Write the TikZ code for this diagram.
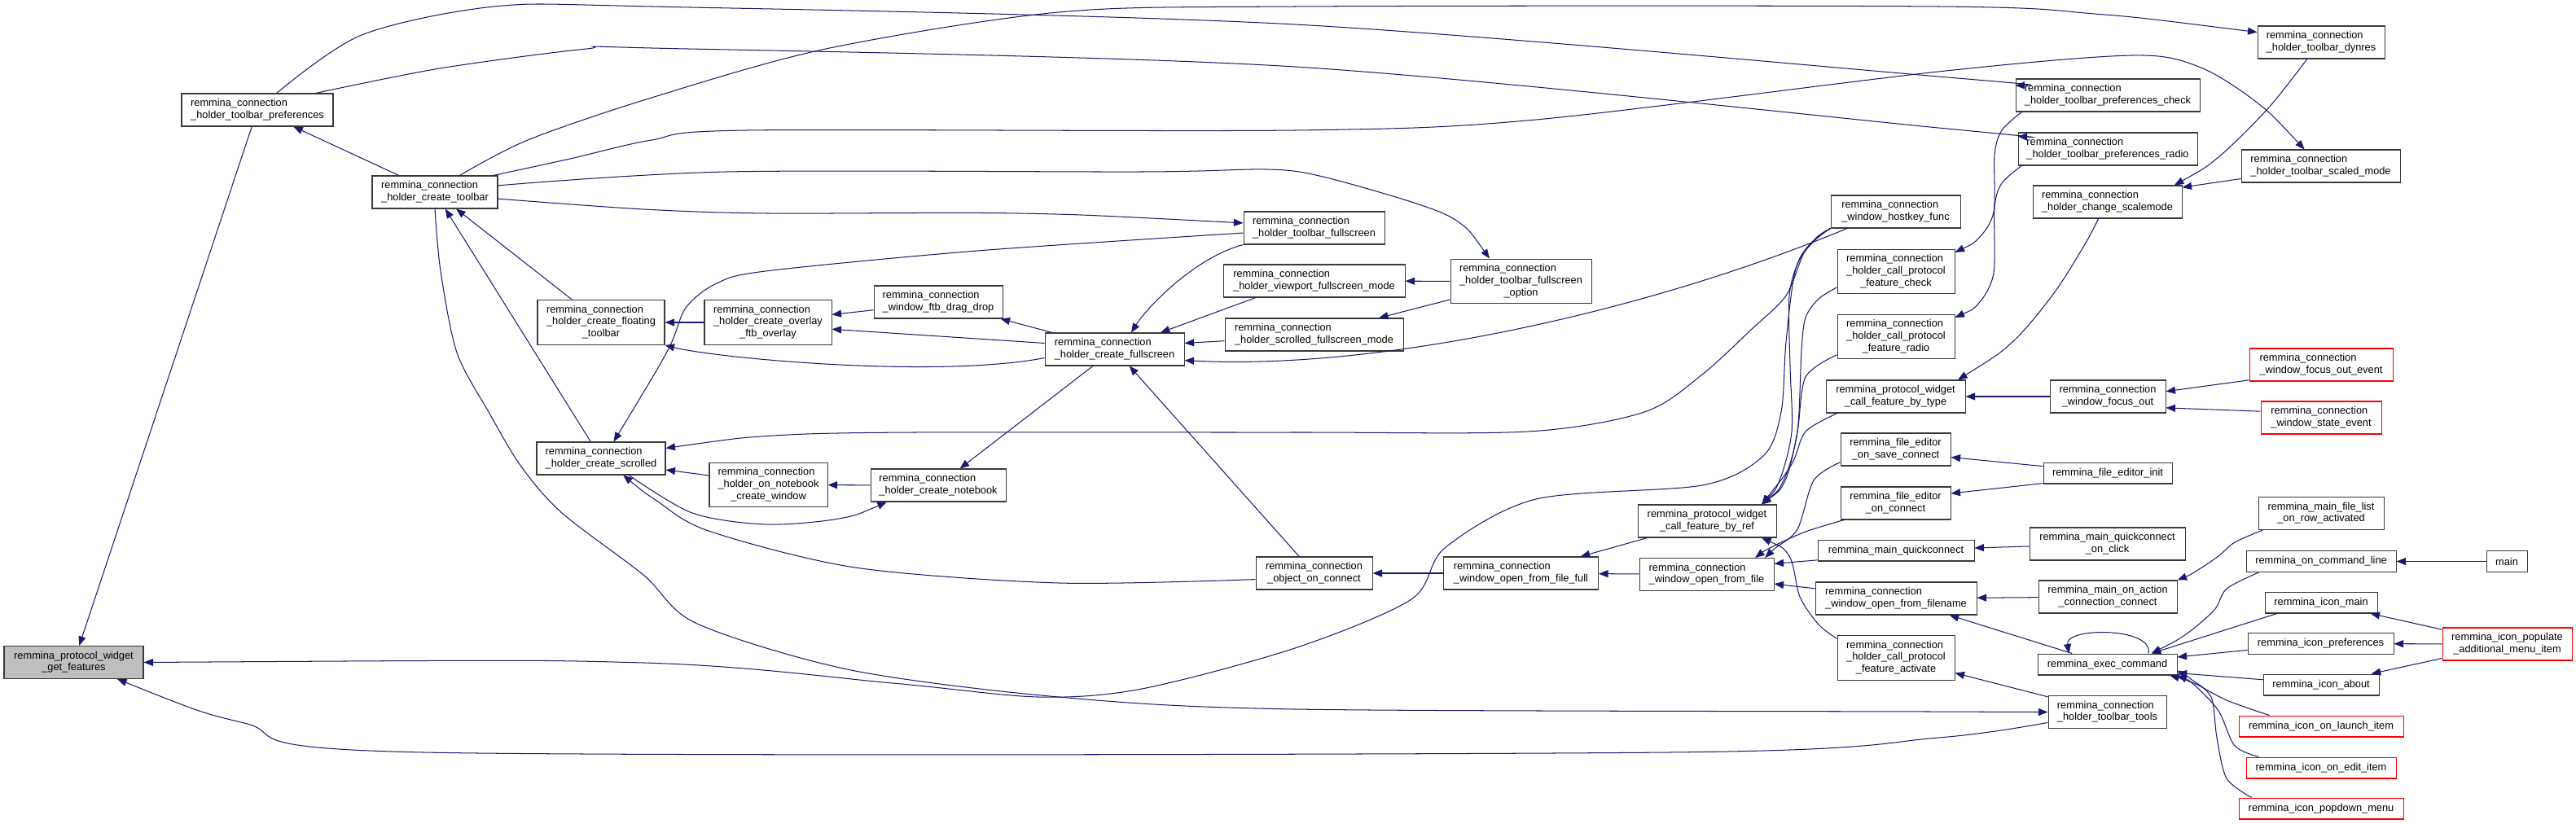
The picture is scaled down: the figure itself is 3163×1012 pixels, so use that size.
\documentclass[tikz,border=0pt]{standalone}
\usepackage{fontspec}
\setmainfont{Liberation Sans}
\usepackage{tikz}
\usetikzlibrary{arrows.meta}
\definecolor{CallBlue}{HTML}{191970}
\definecolor{BoxLine}{HTML}{3A3A3A}
\definecolor{BoxRed}{HTML}{FF0000}
\definecolor{BoxRoot}{HTML}{BFBFBF}
\tikzset{
  fnbox/.style={draw=BoxLine, line width=0.8pt, fill=white, inner sep=0pt, minimum height=31.25pt, font=\fontsize{10}{11.5}\selectfont},
  fnroot/.style={fnbox, fill=BoxRoot},
  fnred/.style={fnbox, draw=BoxRed},
  wd/.style={minimum width=#1*0.78125pt},
  oneline/.style={minimum height=20.3pt},
  threeline/.style={minimum height=42.9pt},
  callarrow/.style={draw=CallBlue, line width=0.8pt, {Triangle[length=9pt,width=7pt]}-}
}
\newcommand{\fnlabel}[2]{\begin{tabular}{@{}l@{}}#1\\\multicolumn{1}{@{}c@{}}{#2}\end{tabular}}

\begin{document}
\begin{tikzpicture}[x=0.78125pt, y=-0.78125pt]
\useasboundingbox (0,0) rectangle (3163,1012);
% functions, one column per call depth
\node[fnroot, wd=171] (getfeat) at (90.5,813.5) {\fnlabel{remmina\_protocol\_widget}{\_get\_features}};
\node[fnbox, wd=186] (tbprefs) at (316,135) {\fnlabel{remmina\_connection}{\_holder\_toolbar\_preferences}};
\node[fnbox, wd=154] (mktoolbar) at (534,236) {\fnlabel{remmina\_connection}{\_holder\_create\_toolbar}};
\node[fnbox, threeline, wd=156] (mkfloat) at (738,396) {\fnlabel{remmina\_connection\\\_holder\_create\_floating}{\_toolbar}};
\node[fnbox, wd=158] (mkscrolled) at (738,563) {\fnlabel{remmina\_connection}{\_holder\_create\_scrolled}};
\node[fnbox, threeline, wd=156] (mkoverlay) at (943,396) {\fnlabel{remmina\_connection\\\_holder\_create\_overlay}{\_ftb\_overlay}};
\node[fnbox, threeline, wd=145] (nbwindow) at (943.5,595.5) {\fnlabel{remmina\_connection\\\_holder\_on\_notebook}{\_create\_window}};
\node[fnbox, wd=158] (dragdrop) at (1152,371) {\fnlabel{remmina\_connection}{\_window\_ftb\_drag\_drop}};
\node[fnbox, wd=166] (mknotebook) at (1152,596) {\fnlabel{remmina\_connection}{\_holder\_create\_notebook}};
\node[fnbox, wd=171] (mkfull) at (1368.5,429) {\fnlabel{remmina\_connection}{\_holder\_create\_fullscreen}};
\node[fnbox, wd=143] (objconn) at (1613.5,704) {\fnlabel{remmina\_connection}{\_object\_on\_connect}};
\node[fnbox, wd=173] (tbfull) at (1613.5,280) {\fnlabel{remmina\_connection}{\_holder\_toolbar\_fullscreen}};
\node[fnbox, wd=223] (vpfull) at (1613.5,345) {\fnlabel{remmina\_connection}{\_holder\_viewport\_fullscreen\_mode}};
\node[fnbox, wd=219] (scfull) at (1613.5,411) {\fnlabel{remmina\_connection}{\_holder\_scrolled\_fullscreen\_mode}};
\node[fnbox, threeline, wd=173] (tbfullopt) at (1867.5,345.5) {\fnlabel{remmina\_connection\\\_holder\_toolbar\_fullscreen}{\_option}};
\node[fnbox, wd=190] (openfull) at (1867.5,704) {\fnlabel{remmina\_connection}{\_window\_open\_from\_file\_full}};
\node[fnbox, wd=170] (byref) at (2096,640) {\fnlabel{remmina\_protocol\_widget}{\_call\_feature\_by\_ref}};
\node[fnbox, wd=165] (openfile) at (2095.5,705.5) {\fnlabel{remmina\_connection}{\_window\_open\_from\_file}};
\node[fnbox, wd=159] (hostkey) at (2327.5,260) {\fnlabel{remmina\_connection}{\_window\_hostkey\_func}};
\node[fnbox, threeline, wd=144] (featcheck) at (2328,333.5) {\fnlabel{remmina\_connection\\\_holder\_call\_protocol}{\_feature\_check}};
\node[fnbox, threeline, wd=144] (featradio) at (2328,413.5) {\fnlabel{remmina\_connection\\\_holder\_call\_protocol}{\_feature\_radio}};
\node[fnbox, wd=171] (bytype) at (2327.5,487) {\fnlabel{remmina\_protocol\_widget}{\_call\_feature\_by\_type}};
\node[fnbox, wd=135] (edsave) at (2327.5,552) {\fnlabel{remmina\_file\_editor}{\_on\_save\_connect}};
\node[fnbox, wd=135] (edconn) at (2327.5,618) {\fnlabel{remmina\_file\_editor}{\_on\_connect}};
\node[fnbox, oneline, wd=192] (quickconn) at (2328,676) {remmina\_main\_quickconnect};
\node[fnbox, wd=198] (openname) at (2328,735) {\fnlabel{remmina\_connection}{\_window\_open\_from\_filename}};
\node[fnbox, threeline, wd=144] (featact) at (2328,808) {\fnlabel{remmina\_connection\\\_holder\_call\_protocol}{\_feature\_activate}};
\node[fnbox, wd=156] (dynres) at (2850,52) {\fnlabel{remmina\_connection}{\_holder\_toolbar\_dynres}};
\node[fnbox, wd=226] (prefcheck) at (2588,117) {\fnlabel{remmina\_connection}{\_holder\_toolbar\_preferences\_check}};
\node[fnbox, wd=220] (prefradio) at (2588,183) {\fnlabel{remmina\_connection}{\_holder\_toolbar\_preferences\_radio}};
\node[fnbox, wd=195] (scaled) at (2849.5,204) {\fnlabel{remmina\_connection}{\_holder\_toolbar\_scaled\_mode}};
\node[fnbox, wd=183] (scalemode) at (2587.5,248) {\fnlabel{remmina\_connection}{\_holder\_change\_scalemode}};
\node[fnbox, wd=142] (focusout) at (2588,487) {\fnlabel{remmina\_connection}{\_window\_focus\_out}};
\node[fnred, wd=176] (focusevt) at (2850,448) {\fnlabel{remmina\_connection}{\_window\_focus\_out\_event}};
\node[fnred, wd=148] (stateevt) at (2850,513) {\fnlabel{remmina\_connection}{\_window\_state\_event}};
\node[fnbox, oneline, wd=158] (edinit) at (2588,581) {remmina\_file\_editor\_init};
\node[fnbox, wd=154] (rowact) at (2850,630.5) {\fnlabel{remmina\_main\_file\_list}{\_on\_row\_activated}};
\node[fnbox, wd=191] (quickclick) at (2587.5,668) {\fnlabel{remmina\_main\_quickconnect}{\_on\_click}};
\node[fnbox, oneline, wd=184] (cmdline) at (2850,689.5) {remmina\_on\_command\_line};
\node[fnbox, oneline, wd=50] (mainfn) at (3078,689.5) {main};
\node[fnbox, wd=170] (actconn) at (2588,733) {\fnlabel{remmina\_main\_on\_action}{\_connection\_connect}};
\node[fnbox, oneline, wd=138] (iconmain) at (2850,740) {remmina\_icon\_main};
\node[fnred, wd=159] (populate) at (3078.5,791) {\fnlabel{remmina\_icon\_populate}{\_additional\_menu\_item}};
\node[fnbox, oneline, wd=179] (iconprefs) at (2849.5,790.5) {remmina\_icon\_preferences};
\node[fnbox, oneline, wd=171] (execcmd) at (2587.5,816) {remmina\_exec\_command};
\node[fnbox, oneline, wd=142] (iconabout) at (2850,841) {remmina\_icon\_about};
\node[fnbox, wd=145] (tbtools) at (2587.5,874.5) {\fnlabel{remmina\_connection}{\_holder\_toolbar\_tools}};
\node[fnred, oneline, wd=202] (launch) at (2850,892) {remmina\_icon\_on\_launch\_item};
\node[fnred, oneline, wd=184] (edititem) at (2850,943) {remmina\_icon\_on\_edit\_item};
\node[fnred, oneline, wd=202] (popdown) at (2850,993) {remmina\_icon\_popdown\_menu};
% calls, arrow tip at the callee
\draw[callarrow] (getfeat) -- (tbprefs);
\draw[callarrow] plot[smooth] coordinates {(getfeat.east) (790,814) (1096,839) (1275,856) (1402,846) (1590,796) (1733,736) (1774,673) (1886,613) (2090,596) (2165,560) (2187,506) (2193,420) (2205,330) (2230,293) (hostkey.south west)};
\draw[callarrow] plot[smooth] coordinates {(getfeat.-21) (300,888) (520,924) (2050,924) (2380,906) (tbtools.190)};
\draw[callarrow] (tbprefs) -- (mktoolbar);
\draw[callarrow] (mktoolbar) -- (mkfloat);
\draw[callarrow] (mktoolbar) -- (mkscrolled);
\draw[callarrow] plot[smooth] coordinates {(dynres.171) (2572,17) (2380,8) (1590,8) (1300,15) (1014,60) (800,120) (648,172) (mktoolbar.34)};
\draw[callarrow] plot[smooth] coordinates {(prefcheck.174) (2380,94) (1590,30) (800,8) (607,8) (444,43) (tbprefs.41)};
\draw[callarrow] plot[smooth] coordinates {(prefradio.172) (2380,157) (1590,82) (800,59) (720,60) (540,84) (tbprefs.16)};
\draw[callarrow] plot[smooth] coordinates {(scaled.134) (2770,125) (2700,82) (2618,68) (2380,88) (1886,147) (1590,160) (918,160) (800,172) (700,195) (mktoolbar.16)};
\draw[callarrow] plot[smooth] coordinates {(tbfullopt.144) (1790,272) (1733,248) (1620,216) (1555,208) (1402,211) (892,211) (mktoolbar.6)};
\draw[callarrow] plot[smooth] coordinates {(tbfull.176) (1250,262) (943,262) (790,257) (mktoolbar.-6)};
\draw[callarrow] plot[smooth] coordinates {(tbtools.west) (2370,874) (1590,871) (1300,856) (1045,823) (856,766) (790,706) (690,630) (640,573) (600,506) (561,433) (541,333) (mktoolbar.south)};
\draw[callarrow] plot[smooth] coordinates {(mkscrolled.53) (820,430) (842,378) (880,348) (940,333) (1200,308) (tbfull.184)};
\draw[callarrow] (mkfloat) -- (mkoverlay);
\draw[callarrow] (mkfloat.south east) .. controls (880,440) and (1150,465) .. (mkfull.187);
\draw[callarrow] (mkoverlay.7) -- (dragdrop.187);
\draw[callarrow] (mkoverlay.-6) -- (mkfull.175);
\draw[callarrow] (dragdrop) -- (mkfull);
\draw[callarrow] (mkfull.45) .. controls (1410,375) and (1470,315) .. (tbfull.south west);
\draw[callarrow] (mkfull.20) -- (vpfull.196);
\draw[callarrow] (mkfull.5) -- (scfull.184);
\draw[callarrow] (mkfull.-9) .. controls (1700,455) and (2030,380) .. (hostkey.199);
\draw[callarrow] (mkfull) -- (objconn);
\draw[callarrow] plot[smooth] coordinates {(mkscrolled.9) (950,535) (1122,531) (1590,531) (1876,530) (2019,506) (2090,460) (2150,405) (2193,363) (2217,307) (hostkey.south west)};
\draw[callarrow] (mkscrolled.-10) -- (nbwindow.171);
\draw[callarrow] plot[smooth] coordinates {(mkscrolled.-37) (805,614) (870,652) (1050,697) (1300,716) (objconn.186)};
\draw[callarrow] (nbwindow) -- (mknotebook);
\draw[callarrow] plot[smooth] coordinates {(mknotebook.198) (1030,637) (940,644) (850,630) (mkscrolled.-31)};
\draw[callarrow] (mknotebook) -- (mkfull);
\draw[callarrow] (objconn) -- (openfull);
\draw[callarrow] (openfull) -- (byref);
\draw[callarrow] (openfull) -- (openfile);
\draw[callarrow] (vpfull) -- (tbfullopt);
\draw[callarrow] (scfull) -- (tbfullopt);
\draw[callarrow] plot[smooth] coordinates {(byref.17) (2185,590) (2200,530) (2198,450) (2197,363) (2210,317) (2230,292) (hostkey.south west)};
\draw[callarrow] plot[smooth] coordinates {(byref.17) (2190,590) (2207,530) (2212,430) (2217,390) (2233,367) (featcheck.195)};
\draw[callarrow] plot[smooth] coordinates {(byref.17) (2192,590) (2207,530) (2217,463) (featradio.197)};
\draw[callarrow] plot[smooth] coordinates {(byref.17) (2200,570) (2217,530) (bytype.196)};
\draw[callarrow] plot[smooth] coordinates {(byref.-17) (2197,683) (2210,733) (2233,767) (featact.162)};
\draw[callarrow] plot[smooth] coordinates {(openfile.16) (2180,673) (2207,650) (2227,590) (edsave.193)};
\draw[callarrow] plot[smooth] coordinates {(openfile.19) (2175,672) (2217,653) (edconn.198)};
\draw[callarrow] (openfile.9) -- (quickconn.187);
\draw[callarrow] (openfile.-8) -- (openname.173);
\draw[callarrow] (edsave.-8) -- (edinit.174);
\draw[callarrow] (edconn.10) -- (edinit.189);
\draw[callarrow] (quickconn) -- (quickclick);
\draw[callarrow] (openname) -- (actconn);
\draw[callarrow] (openname) -- (execcmd);
\draw[callarrow] (featact) -- (tbtools);
\draw[callarrow] plot[smooth] coordinates {(featcheck.18) (2430,292) (2448,260) (2449,190) (2458,160) (prefcheck.191)};
\draw[callarrow] plot[smooth] coordinates {(featradio.18) (2430,372) (2448,335) (2449,255) (2458,225) (prefradio.191)};
\draw[callarrow] plot[smooth] coordinates {(scalemode.14) (2724,193) (2785,133) (dynres.230)};
\draw[callarrow] (scalemode.11) -- (scaled.189);
\draw[callarrow] plot[smooth] coordinates {(bytype.15) (2471,420) (2522,360) (2560,300) (scalemode.242)};
\draw[callarrow] (bytype) -- (focusout);
\draw[callarrow] (focusout.5) -- (focusevt.192);
\draw[callarrow] (focusout.-11) -- (stateevt.174);
\draw[callarrow] plot[smooth] coordinates {(actconn.north east) (2694,703) (2724,683) (2744,666) (rowact.196)};
\draw[callarrow] (execcmd.164) .. controls (2535,770) and (2645,770) .. (execcmd.15);
\draw[callarrow] plot[smooth] coordinates {(execcmd.14) (2684,779) (2719,749) (2734,723) (cmdline.190)};
\draw[callarrow] (execcmd.14) -- (iconmain.194);
\draw[callarrow] (execcmd.6) -- (iconprefs.185);
\draw[callarrow] (execcmd.-7) -- (iconabout.175);
\draw[callarrow] plot[smooth] coordinates {(execcmd.-10) (2694,839) (2734,860) (launch.168)};
\draw[callarrow] plot[smooth] coordinates {(execcmd.south east) (2694,841) (2724,873) (2744,916) (edititem.170)};
\draw[callarrow] plot[smooth] coordinates {(execcmd.-5) (2690,834) (2715,856) (2722,906) (2734,956) (popdown.171)};
\draw[callarrow] (cmdline) -- (mainfn);
\draw[callarrow] (iconmain) -- (populate);
\draw[callarrow] (iconprefs) -- (populate);
\draw[callarrow] (iconabout) -- (populate);
\end{tikzpicture}
\end{document}
